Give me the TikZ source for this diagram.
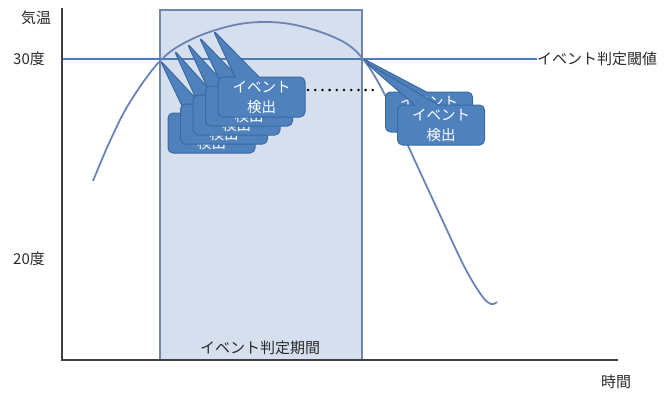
\documentclass[tikz,border=0pt]{standalone}
\usepackage{fontspec}
\setmainfont{Noto Sans CJK JP}
\usetikzlibrary{shapes.callouts}
\definecolor{axisc}{HTML}{404040}
\definecolor{thrc}{HTML}{4A7EBB}
\definecolor{curvec}{HTML}{6A85B5}
\definecolor{periodfill}{HTML}{D5DFEE}
\definecolor{periodline}{HTML}{6F87AD}
\definecolor{boxfill}{HTML}{4F81BD}
\definecolor{boxline}{HTML}{3C6AA0}
\definecolor{labc}{HTML}{2A2A2A}
\begin{document}
\begin{tikzpicture}[x=1pt,y=-1pt,
  evt/.style={rectangle callout, draw=boxline, fill=boxfill, rounded corners=5pt,
    line width=1pt, minimum width=87pt, minimum height=40pt, inner sep=1pt,
    text=white, font=\fontsize{14.5pt}{20pt}\selectfont, align=center,
    callout pointer width=24pt},
  lbl/.style={text=labc, font=\fontsize{15pt}{18pt}\selectfont, inner sep=0pt}]
\useasboundingbox (0,0) rectangle (669,394);
% event judgement period
\node[draw=periodline, fill=periodfill, line width=1.3pt, minimum width=202pt,
  minimum height=350pt, inner sep=0pt] (period) at (261,185) {};
% threshold line
\coordinate (thrS) at (62,59);
\node[lbl, anchor=west] (thrlabel) at (537,59) {イベント判定閾値};
\draw[thrc, line width=1.3pt] (thrS) -- (thrlabel.west);
% temperature curve
\draw[curvec, line width=1.8pt] plot[smooth, tension=0.6] coordinates {
  (93,181) (110,141) (130,102) (160,61) (190,40) (230,26) (265,22) (300,26)
  (340,40) (363,59) (385,95) (410,150) (440,215) (465,268) (482,296)
  (491,304) (497,302)};
% axes
\coordinate (origin) at (62,360);
\coordinate (ytop) at (62,8);
\coordinate (xend) at (618,360);
\draw[axisc, line width=1.8pt] (ytop) -- (origin) -- (xend);
% pointer targets
\coordinate (t1) at (160,60);
\coordinate (t2) at (174,50);
\coordinate (t3) at (187,43);
\coordinate (t4) at (199,37);
\coordinate (t5) at (213,30);
\coordinate (t6) at (362,58);
\coordinate (t7) at (365,62);
% left group
\node[evt, callout absolute pointer={(t1)}] (L1) at (211.5,133) {イベント\\検出};
\node[evt, callout absolute pointer={(t2)}] (L2) at (224,124) {イベント\\検出};
\node[evt, callout absolute pointer={(t3)}] (L3) at (236.5,115) {イベント\\検出};
\node[evt, callout absolute pointer={(t4)}] (L4) at (249,106) {イベント\\検出};
\node[evt, callout absolute pointer={(t5)}] (L5) at (261.5,97) {イベント\\検出};
% right group
\node[evt, callout absolute pointer={(t6)}] (R1) at (429,112) {イベント\\検出};
\node[evt, callout absolute pointer={(t7)}] (R2) at (441,125) {イベント\\検出};
% dotted link
\coordinate (dotS) at (308,90);
\coordinate (dotE) at (373,90);
\draw[black, line width=2.8pt, line cap=round, dash pattern=on 0pt off 7.2pt] (dotS) -- (dotE);
% labels
\node[lbl] (ylabel) at (36,18) {気温};
\node[lbl] (t30) at (29,59) {30度};
\node[lbl] (t20) at (29,259) {20度};
\node[lbl] (xlabel) at (616,382) {時間};
\node[lbl] (plabel) at (260,348) {イベント判定期間};
\end{tikzpicture}
\end{document}
